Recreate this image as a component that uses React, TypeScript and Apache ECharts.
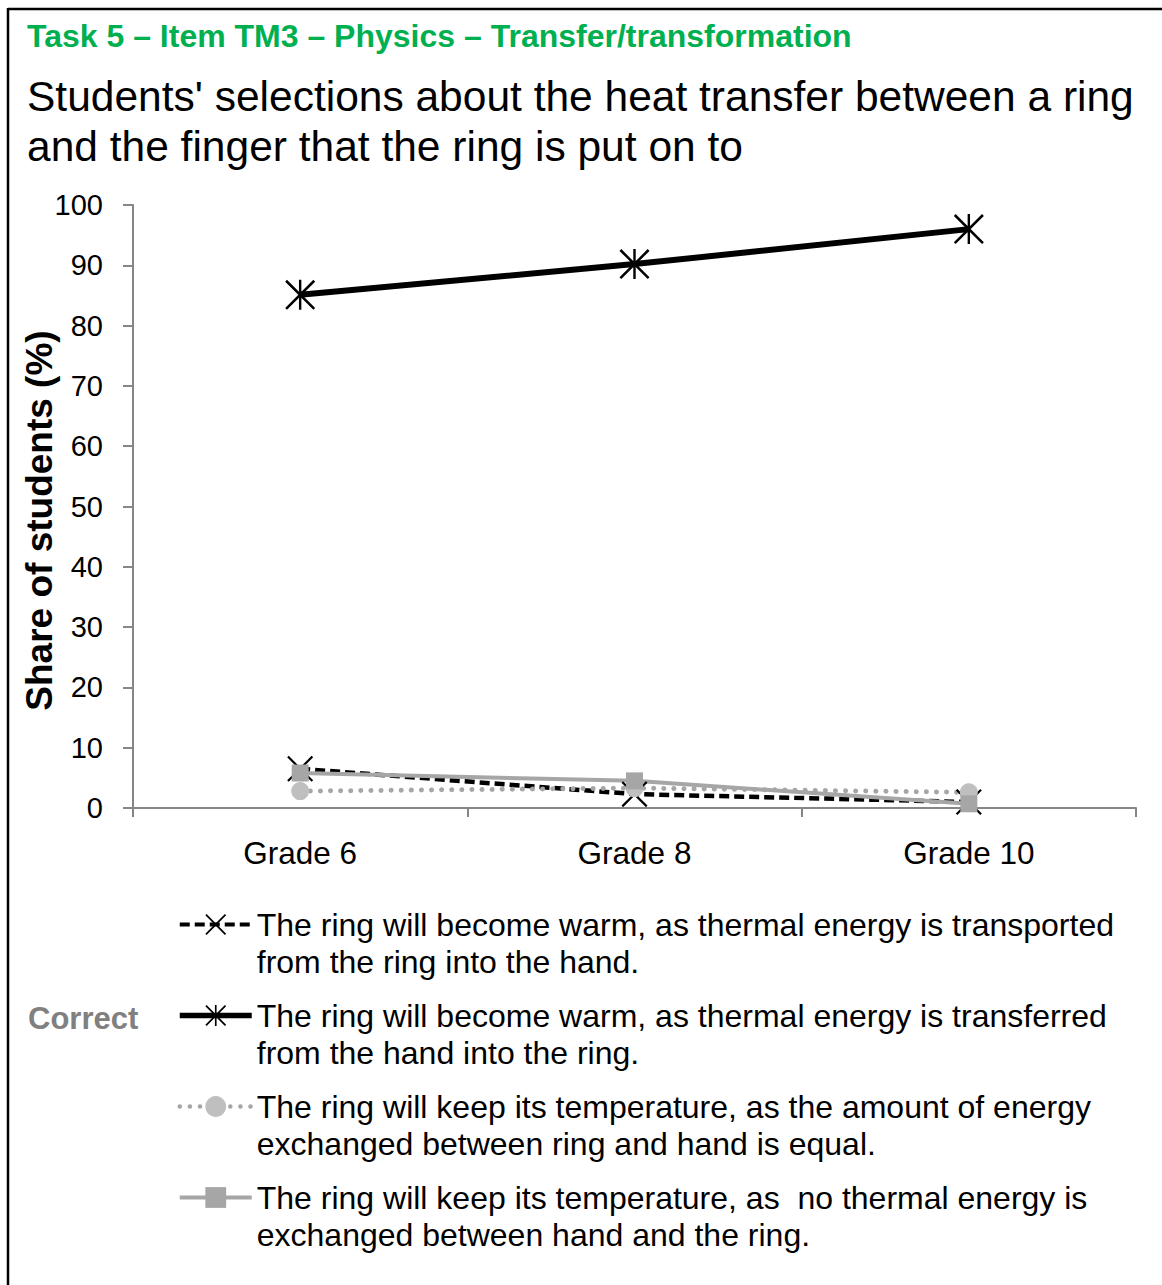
import React, { useEffect, useRef } from "react";
import * as echarts from "echarts";

const grades = ["Grade 6", "Grade 8", "Grade 10"];
const seriesNames = [
  "The ring will become warm, as thermal energy is transported\nfrom the ring into the hand.",
  "The ring will become warm, as thermal energy is transferred\nfrom the hand into the ring.",
  "The ring will keep its temperature, as the amount of energy\nexchanged between ring and hand is equal.",
  "The ring will keep its temperature, as  no thermal energy is\nexchanged between hand and the ring.",
];
const transportedValues = [6.5, 2.3, 1.0];
const transferredValues = [85.1, 90.2, 96.0];
const equalValues = [2.8, 3.3, 2.6];
const noExchangeValues = [5.8, 4.5, 0.7];
const yTicks = { min: 0, max: 100, interval: 10 };

const FONT = "'Liberation Sans', Arial, sans-serif";
const X_PATH = "path://M0,6L6,0L100,94L94,100Z M94,0L100,6L6,100L0,94Z";
const STAR_PATH =
  "path://M0,6L6,0L100,94L94,100Z M94,0L100,6L6,100L0,94Z M46,0L54,0L54,100L46,100Z";

export default function App() {
  const ref = useRef<HTMLDivElement>(null);
  useEffect(() => {
    if (!ref.current) return;
    const chart = echarts.init(ref.current, undefined, { renderer: "svg" });
    chart.setOption({
      animation: false,
      backgroundColor: "#ffffff",
      title: [
        {
          text: "Task 5 – Item TM3 – Physics – Transfer/transformation",
          left: 27,
          top: 19,
          padding: 0,
          textStyle: {
            color: "#00B050",
            fontFamily: FONT,
            fontWeight: "bold",
            fontSize: 32,
            lineHeight: 34,
          },
        },
        {
          text:
            "Students' selections about the heat transfer between a ring\nand the finger that the ring is put on to",
          left: 27,
          top: 71,
          padding: 0,
          textStyle: {
            color: "#000000",
            fontFamily: FONT,
            fontWeight: "normal",
            fontSize: 42.5,
            lineHeight: 50,
          },
        },
      ],
      graphic: [
        {
          type: "line",
          shape: { x1: 8, y1: 9, x2: 1162, y2: 9 },
          style: { stroke: "#000", lineWidth: 2.5 },
        },
        {
          type: "line",
          shape: { x1: 8, y1: 8, x2: 8, y2: 1285 },
          style: { stroke: "#000", lineWidth: 2.5 },
        },
        {
          type: "text",
          x: 28,
          y: 1018,
          style: {
            text: "Correct",
            fill: "#808080",
            font: `bold 31px ${FONT}`,
            verticalAlign: "middle",
          },
        },
      ],
      legend: {
        orient: "vertical",
        left: 177,
        top: 869,
        padding: 0,
        itemGap: -20,
        itemWidth: 72,
        itemHeight: 26,
        formatter: (name: string) => "\n" + name,
        data: [
          { name: seriesNames[0], lineStyle: { width: 4 } },
          { name: seriesNames[1], lineStyle: { width: 5.5 } },
          { name: seriesNames[2], lineStyle: { width: 4.5 } },
          { name: seriesNames[3], lineStyle: { width: 4 } },
        ],
        textStyle: {
          color: "#000",
          fontFamily: FONT,
          fontSize: 32,
          lineHeight: 37,
        },
      },
      grid: { left: 133, right: 26, top: 205, bottom: 477 },
      xAxis: {
        type: "category",
        data: grades,
        boundaryGap: true,
        axisLine: { lineStyle: { color: "#868686", width: 2 } },
        axisTick: { show: true, length: 9, alignWithLabel: false, lineStyle: { color: "#868686", width: 2 } },
        axisLabel: { color: "#000", fontFamily: FONT, fontSize: 31.5, margin: 29 },
      },
      yAxis: {
        type: "value",
        min: yTicks.min,
        max: yTicks.max,
        interval: yTicks.interval,
        name: "Share of students (%)",
        nameLocation: "middle",
        nameGap: 75,
        nameMoveOverlap: false,
        nameTextStyle: {
          color: "#000",
          fontFamily: FONT,
          fontSize: 37,
          fontWeight: "bold",
          padding: [0, 28, 0, 0],
        },
        axisLine: { show: true, lineStyle: { color: "#868686", width: 2 } },
        axisTick: { show: true, length: 10, lineStyle: { color: "#868686", width: 2 } },
        splitLine: { show: false },
        axisLabel: { color: "#000", fontFamily: FONT, fontSize: 29, margin: 30 },
      },
      series: [
        {
          name: seriesNames[0],
          type: "line",
          data: transportedValues,
          symbol: X_PATH,
          symbolSize: 26,
          itemStyle: { color: "#000" },
          lineStyle: { color: "#000", width: 4.5, type: [10, 5] },
        },
        {
          name: seriesNames[1],
          type: "line",
          data: transferredValues,
          symbol: STAR_PATH,
          symbolSize: 30,
          itemStyle: { color: "#000" },
          lineStyle: { color: "#000", width: 6 },
        },
        {
          name: seriesNames[2],
          type: "line",
          data: equalValues,
          symbol: "circle",
          symbolSize: 18,
          itemStyle: { color: "#BFBFBF" },
          lineStyle: { color: "#A6A6A6", width: 5, type: [0.1, 10], cap: "round" },
        },
        {
          name: seriesNames[3],
          type: "line",
          data: noExchangeValues,
          symbol: "rect",
          symbolSize: 17,
          itemStyle: { color: "#A6A6A6" },
          lineStyle: { color: "#A6A6A6", width: 4 },
        },
      ],
    });
    return () => chart.dispose();
  }, []);
  return (
    <div
      ref={ref}
      style={{ position: "fixed", left: 0, top: 0, width: 1162, height: 1285, background: "#fff" }}
    />
  );
}
